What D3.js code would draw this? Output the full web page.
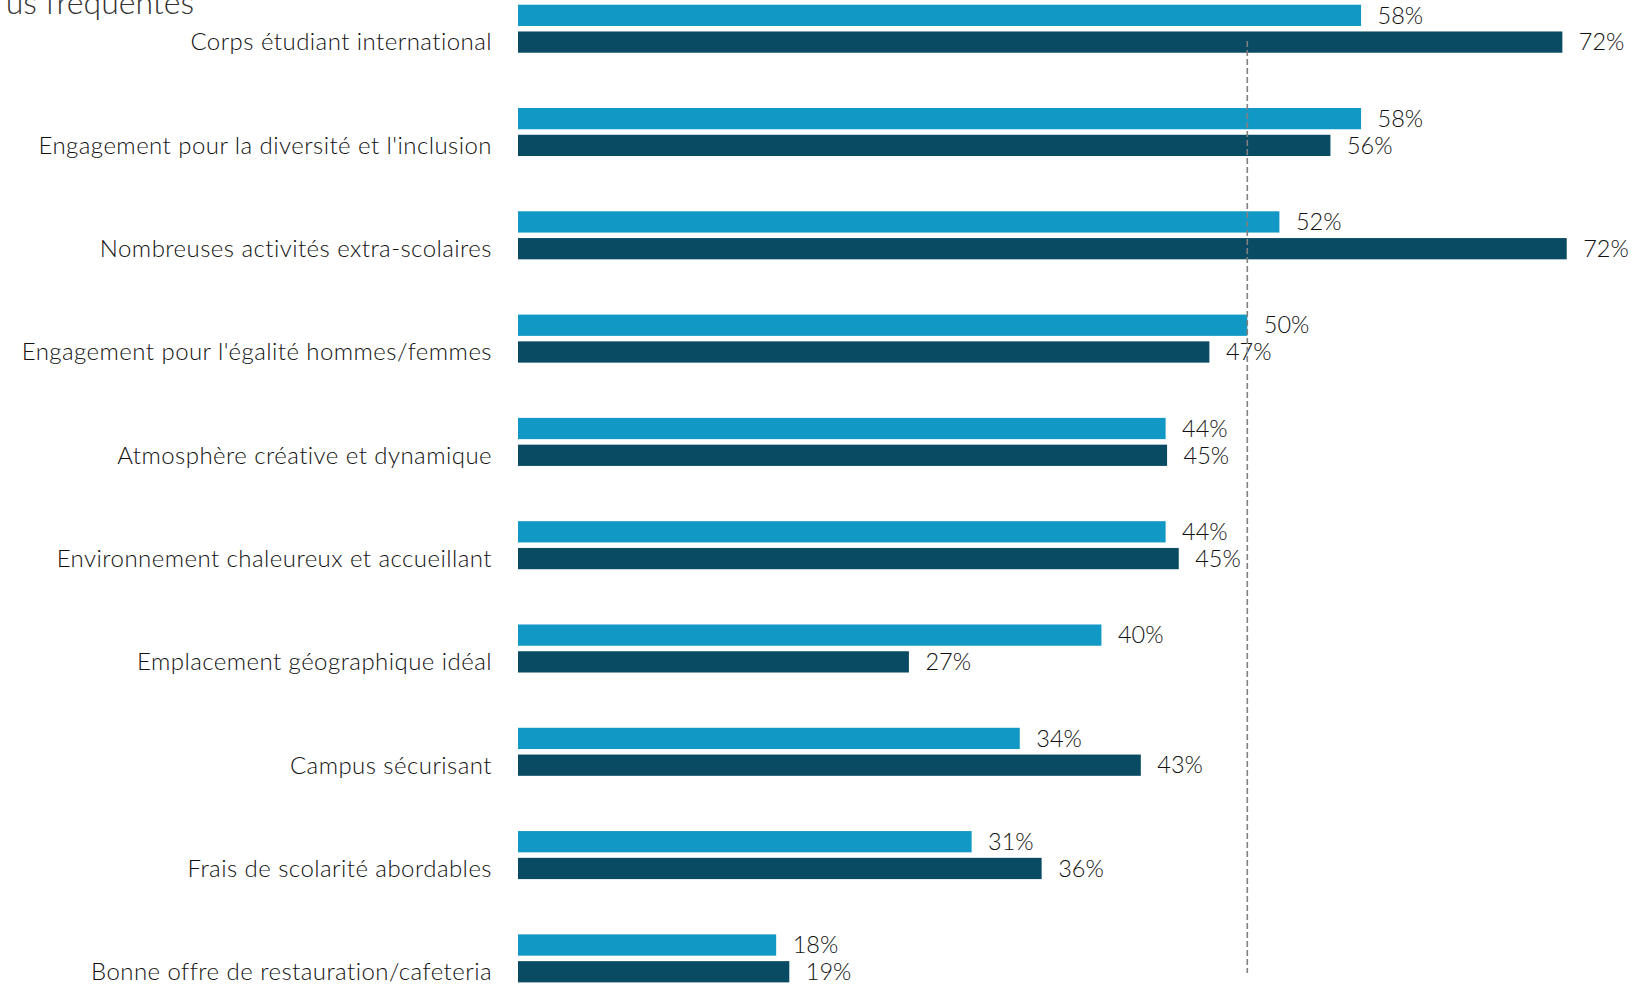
<!DOCTYPE html>
<html>
<head>
<meta charset="utf-8">
<script src="https://cdn.jsdelivr.net/npm/d3@7"></script>
<style>
  html, body { margin: 0; padding: 0; background: #ffffff; overflow: hidden; }
  svg { display: block; }
  text { font-family: Lato, "Open Sans", "Liberation Sans", sans-serif; }
</style>
</head>
<body>
<svg id="chart" width="1635" height="984"></svg>
<script>
const categories = [
  "Corps étudiant international",
  "Engagement pour la diversité et l'inclusion",
  "Nombreuses activités extra-scolaires",
  "Engagement pour l'égalité hommes/femmes",
  "Atmosphère créative et dynamique",
  "Environnement chaleureux et accueillant",
  "Emplacement géographique idéal",
  "Campus sécurisant",
  "Frais de scolarité abordables",
  "Bonne offre de restauration/cafeteria"
];
const seriesLight = [57.8, 57.8, 52.2, 50.0, 44.4, 44.4, 40.0, 34.4, 31.1, 17.7];
const seriesDark  = [71.6, 55.7, 71.9, 47.4, 44.5, 45.3, 26.8, 42.7, 35.9, 18.6];
const seriesKeys = ["light", "dark"];
const seriesColors = ["#1198c4", "#084b63"];
const referenceValue = 50;
const titleText = "us fréquentes";

const svg = d3.select("#chart");
const x = d3.scaleLinear().domain([0, 50]).range([518, 1247.3]);
const y = d3.scaleBand().domain(categories).range([4.7, 982.4]).paddingInner(0.535).paddingOuter(0);
const ySub = d3.scaleBand().domain(seriesKeys).range([0, y.bandwidth()]).paddingInner(0.2056).paddingOuter(0);
const color = d3.scaleOrdinal().domain(seriesKeys).range(seriesColors);
const fmt = v => d3.format(".0f")(v) + "%";

const rows = categories.map((c, i) => ({
  cat: c,
  vals: [ {key: "light", v: seriesLight[i]}, {key: "dark", v: seriesDark[i]} ]
}));

// title (partially cut off at the top, as in the reference)
svg.append("text")
  .attr("x", 194).attr("y", 14)
  .attr("text-anchor", "end")
  .attr("font-size", 32)
  .attr("font-weight", 300)
  .attr("fill", "#333333")
  .text(titleText);

const g = svg.selectAll("g.row").data(rows).join("g")
  .attr("class", "row")
  .attr("transform", d => `translate(0,${y(d.cat)})`);

g.selectAll("rect").data(d => d.vals).join("rect")
  .attr("x", x(0))
  .attr("y", d => ySub(d.key))
  .attr("width", d => x(d.v) - x(0))
  .attr("height", ySub.bandwidth())
  .attr("fill", d => color(d.key));

g.selectAll("text.val").data(d => d.vals).join("text")
  .attr("class", "val")
  .attr("x", d => x(d.v) + 16.5)
  .attr("y", d => ySub(d.key) + ySub.bandwidth() / 2)
  .attr("dy", "0.35em")
  .attr("font-size", 23.5)
  .attr("font-weight", 300)
  .attr("fill", "#111111")
  .text(d => fmt(d.v));

g.append("text")
  .attr("class", "cat")
  .attr("x", 492)
  .attr("y", ySub("dark") + ySub.bandwidth() / 2)
  .attr("dy", "0.35em")
  .attr("text-anchor", "end")
  .attr("font-size", 24)
  .attr("font-weight", 300)
  .attr("letter-spacing", "0.45px")
  .attr("fill", "#111111")
  .text(d => d.cat);

// reference dashed line
svg.append("line")
  .attr("x1", x(referenceValue)).attr("x2", x(referenceValue))
  .attr("y1", 41).attr("y2", 973)
  .attr("stroke", "#808080")
  .attr("stroke-width", 1.6)
  .attr("stroke-dasharray", "6,3");
</script>
</body>
</html>
